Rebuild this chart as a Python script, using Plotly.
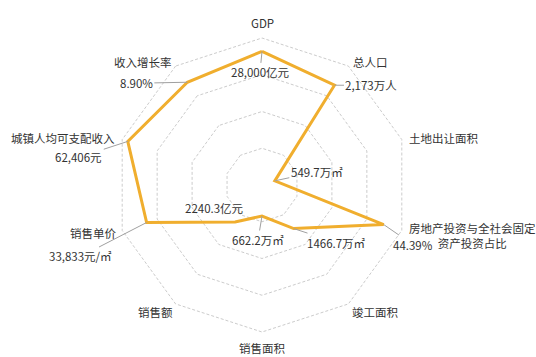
import math
import plotly.graph_objects as go

# Radar axes, clockwise from the top
categories = ["GDP", "总人口", "土地出让面积", "房地产投资与全社会固定资产投资占比",
              "竣工面积", "销售面积", "销售额", "销售单价",
              "城镇人均可支配收入", "收入增长率"]
axis_titles = ["GDP", "总人口", "土地出让面积", "房地产投资与全社会固定<br>资产投资占比",
               "竣工面积", "销售面积", "销售额", "销售单价",
               "城镇人均可支配收入", "收入增长率"]
values = [28000, 2173, 549.7, 44.39, 1466.7, 662.2, 2240.3, 33833, 62406, 8.90]
value_labels = ["28,000亿元", "2,173万人", "549.7万㎡", "44.39%", "1466.7万㎡",
                "662.2万㎡", "2240.3亿元", "33,833元/㎡", "62,406元", "8.90%"]
# full-scale reference of each axis (outer ring)
axis_max = [30800, 2590, 6000, 51, 4000, 3140, 7200, 41000, 65000, 10.3]

r = [v / m for v, m in zip(values, axis_max)]

W, H = 536, 357
CX, CY, R = 262, 185, 147  # polar centre and radius of the outer ring, px
RMAX = 1.04                # radial range end, a little beyond the outer ring
RD = R * RMAX              # radius of the polar domain, px

FONT = dict(family="Noto Sans CJK SC", size=11.5, color="#333333")
LINE = "#F0AE2E"

fig = go.Figure()
fig.add_trace(go.Scatterpolar(
    r=r + r[:1], theta=categories + categories[:1],
    mode="lines", line=dict(color=LINE, width=3),
    hoverinfo="skip", showlegend=False,
))

fig.update_layout(
    width=W, height=H,
    margin=dict(l=0, r=0, t=0, b=0),
    paper_bgcolor="white", plot_bgcolor="white",
    polar=dict(
        domain=dict(x=[(CX - RD) / W, (CX + RD) / W],
                    y=[1 - (CY + RD) / H, 1 - (CY - RD) / H]),
        bgcolor="white",
        gridshape="linear",
        radialaxis=dict(range=[0, RMAX], tickvals=[0.25, 0.5, 0.75, 1.0],
                        showticklabels=False, ticks="", showline=False,
                        gridcolor="#cccccc", griddash="3px,2px", gridwidth=1),
        angularaxis=dict(direction="clockwise", rotation=90,
                         showticklabels=False, ticks="", showline=False,
                         showgrid=False),
    ),
)


def to_paper(rv, i):
    ang = math.radians(90 - 36 * i)
    px = CX + rv * R * math.cos(ang)
    py = CY - rv * R * math.sin(ang)
    return px / W, 1 - py / H


# value labels with short leader lines (offsets in px)
offsets = [(-2, 21), (37, 0), (42, -9), (29, 20), (43, 14),
           (-4, 24), (-21, -14), (-66, 34), (-49, 16), (-51, 1)]
for i, (txt, (dx, dy)) in enumerate(zip(value_labels, offsets)):
    x, y = to_paper(r[i], i)
    if i == 6:
        fig.add_annotation(x=x, y=y, xref="paper", yref="paper", text=txt,
                           showarrow=False, xshift=dx, yshift=-dy, font=FONT)
    else:
        fig.add_annotation(x=x, y=y, xref="paper", yref="paper", text=txt,
                           showarrow=True, arrowhead=0, arrowwidth=1,
                           arrowcolor="#a0a0a0", ax=dx, ay=dy, font=FONT)

# axis titles
title_pos = [(262, 23), (370, 62), (443, 138), (472, 235), (375, 312),
             (262, 348), (155, 312), (93, 233), (63, 138), (143, 62)]
for txt, (px, py) in zip(axis_titles, title_pos):
    fig.add_annotation(x=px / W, y=1 - py / H, xref="paper", yref="paper",
                       text=txt, showarrow=False, font=FONT,
                       xanchor="center", yanchor="middle")

fig.write_html("out.html")
